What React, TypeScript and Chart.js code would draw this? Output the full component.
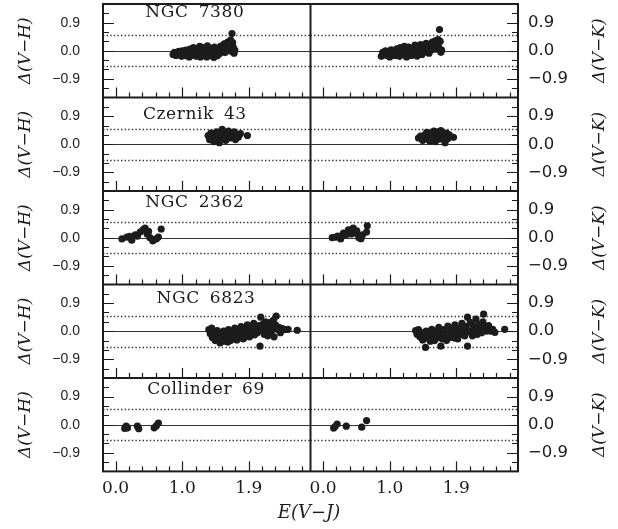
import { useEffect, useRef } from "react";
import { Chart, registerables } from "chart.js";

Chart.register(...registerables);

type Pt = [number, number];

// ---------- data ----------
const clusterNames = ["NGC 7380", "Czernik 43", "NGC 2362", "NGC 6823", "Collinder 69"];

const ngc7380VH: Pt[] = [
  [0.82, -0.12], [0.84, -0.05], [0.86, -0.15], [0.88, -0.08], [0.9, -0.02], [0.92, -0.12], [0.94, -0.18],
  [0.95, 0.0], [0.96, -0.06], [0.98, -0.1], [1.0, 0.02], [1.01, -0.16], [1.02, -0.02], [1.03, -0.08],
  [1.05, -0.2], [1.06, 0.05], [1.08, -0.04], [1.1, -0.14], [1.11, 0.1], [1.12, -0.07], [1.13, -0.02],
  [1.15, -0.18], [1.16, 0.06], [1.18, -0.09], [1.19, -0.14], [1.2, 0.14], [1.21, -0.2], [1.22, -0.01],
  [1.23, 0.02], [1.25, -0.12], [1.26, 0.1], [1.27, -0.15], [1.28, -0.05], [1.3, -0.2], [1.31, 0.16],
  [1.32, -0.09], [1.33, 0.0], [1.35, -0.15], [1.36, 0.08], [1.37, -0.01], [1.38, -0.08], [1.4, -0.22],
  [1.41, 0.12], [1.42, -0.12], [1.43, -0.02], [1.45, -0.16], [1.46, 0.05], [1.47, -0.06], [1.48, -0.1],
  [1.5, 0.15], [1.51, -0.04], [1.53, 0.08], [1.55, 0.22], [1.56, -0.06], [1.58, 0.12], [1.6, 0.28],
  [1.61, 0.04], [1.63, 0.18], [1.64, 0.34], [1.65, -0.02], [1.66, 0.55], [1.67, 0.26], [1.68, 0.1],
  [1.69, -0.08], [1.7, 0.02],
];
const ngc7380VK: Pt[] = [
  [0.83, -0.18], [0.85, -0.05], [0.87, -0.12], [0.89, 0.0], [0.91, -0.15], [0.93, -0.06], [0.95, -0.2],
  [0.97, 0.03], [0.98, -0.14], [0.99, -0.1], [1.01, -0.02], [1.03, -0.15], [1.05, 0.06], [1.07, -0.08],
  [1.09, -0.18], [1.1, 0.1], [1.12, -0.03], [1.13, -0.08], [1.14, -0.12], [1.16, 0.14], [1.17, 0.02],
  [1.18, -0.02], [1.19, -0.2], [1.21, -0.06], [1.22, 0.12], [1.24, -0.02], [1.25, 0.03], [1.26, -0.15],
  [1.27, 0.07], [1.29, -0.09], [1.31, 0.18], [1.32, 0.0], [1.33, -0.1], [1.34, -0.17], [1.36, 0.1],
  [1.37, -0.05], [1.39, 0.2], [1.4, 0.0], [1.41, -0.12], [1.42, 0.06], [1.44, 0.15], [1.46, -0.02],
  [1.47, 0.24], [1.48, -0.04], [1.49, 0.08], [1.51, -0.08], [1.52, 0.18], [1.54, 0.02], [1.56, 0.28],
  [1.58, 0.12], [1.6, 0.32], [1.61, 0.05], [1.63, 0.22], [1.64, 0.36], [1.65, 0.1], [1.66, 0.68],
  [1.67, 0.3], [1.68, -0.05], [1.69, 0.02],
];

const czernik43VH: Pt[] = [
  [1.32, 0.28], [1.34, 0.15], [1.36, 0.36], [1.38, 0.22], [1.4, 0.08], [1.42, 0.3], [1.44, 0.4],
  [1.46, 0.18], [1.48, 0.05], [1.5, 0.32], [1.52, 0.48], [1.53, 0.22], [1.55, 0.38], [1.57, 0.12],
  [1.59, 0.3], [1.61, 0.42], [1.63, 0.2], [1.65, 0.35], [1.67, 0.26], [1.69, 0.4], [1.71, 0.15],
  [1.73, 0.3], [1.75, 0.22], [1.78, 0.34], [1.88, 0.28],
];
const czernik43VK: Pt[] = [
  [1.36, 0.2], [1.39, 0.26], [1.42, 0.12], [1.45, 0.3], [1.48, 0.38], [1.5, 0.18], [1.52, 0.1],
  [1.54, 0.34], [1.56, 0.24], [1.58, 0.42], [1.6, 0.08], [1.62, 0.28], [1.64, 0.4], [1.66, 0.16],
  [1.68, 0.44], [1.7, 0.3], [1.72, 0.22], [1.74, 0.05], [1.76, 0.36], [1.78, 0.18], [1.8, 0.3],
  [1.86, 0.22],
];

const ngc2362VH: Pt[] = [
  [0.09, -0.04], [0.16, 0.02], [0.2, 0.04], [0.23, -0.08], [0.28, 0.09], [0.31, 0.05], [0.35, 0.18],
  [0.39, 0.25], [0.42, 0.31], [0.45, 0.12], [0.47, 0.2], [0.49, 0.0], [0.53, -0.1], [0.55, -0.06],
  [0.58, -0.04], [0.61, 0.02], [0.65, 0.28],
];
const ngc2362VK: Pt[] = [
  [0.13, 0.0], [0.18, 0.02], [0.21, 0.05], [0.25, -0.04], [0.29, 0.15], [0.32, 0.08], [0.36, 0.25],
  [0.4, 0.12], [0.43, 0.31], [0.46, 0.15], [0.48, 0.22], [0.51, 0.0], [0.54, -0.03], [0.56, 0.09],
  [0.62, 0.18], [0.63, 0.38],
];

const ngc6823VH: Pt[] = [
  [1.33, 0.05], [1.35, -0.08], [1.37, 0.1], [1.38, -0.2], [1.4, -0.05], [1.42, -0.3], [1.44, -0.12],
  [1.45, 0.02], [1.46, -0.15], [1.47, -0.25], [1.49, -0.38], [1.5, -0.1], [1.52, -0.18], [1.54, 0.0],
  [1.55, -0.32], [1.57, -0.08], [1.59, -0.22], [1.6, -0.35], [1.61, 0.05], [1.62, -0.15], [1.64, -0.3],
  [1.66, -0.02], [1.68, -0.2], [1.7, 0.1], [1.71, -0.1], [1.72, -0.02], [1.73, -0.28], [1.75, 0.02],
  [1.77, -0.15], [1.79, 0.15], [1.8, -0.05], [1.82, -0.25], [1.84, 0.08], [1.85, -0.18], [1.86, -0.1],
  [1.88, 0.2], [1.89, -0.02], [1.91, -0.18], [1.93, 0.12], [1.95, 0.0], [1.96, -0.08], [1.97, 0.25],
  [1.98, -0.12], [2.0, 0.08], [2.02, -0.05], [2.04, 0.18], [2.06, -0.48], [2.07, 0.45], [2.08, 0.02],
  [2.1, 0.22], [2.12, -0.1], [2.14, 0.3], [2.15, 0.05], [2.16, 0.12], [2.17, -0.15], [2.19, 0.15],
  [2.21, 0.28], [2.22, -0.02], [2.24, 0.1], [2.25, 0.35], [2.26, -0.18], [2.28, 0.2], [2.29, 0.48],
  [2.31, 0.05], [2.33, 0.12], [2.35, -0.05], [2.38, 0.08], [2.42, 0.05], [2.46, 0.06], [2.59, 0.03],
];
const ngc6823VK: Pt[] = [
  [1.32, 0.02], [1.34, -0.1], [1.36, 0.05], [1.38, -0.18], [1.4, -0.05], [1.42, -0.28], [1.44, -0.12],
  [1.46, -0.52], [1.47, 0.0], [1.49, -0.22], [1.51, -0.08], [1.53, -0.32], [1.55, 0.06], [1.57, -0.15],
  [1.58, -0.1], [1.59, -0.3], [1.61, -0.02], [1.63, -0.2], [1.65, 0.12], [1.67, -0.1], [1.68, -0.48],
  [1.7, -0.25], [1.71, -0.12], [1.72, 0.05], [1.74, -0.15], [1.76, -0.3], [1.78, 0.16], [1.8, -0.05],
  [1.82, -0.2], [1.84, 0.08], [1.86, -0.12], [1.87, -0.22], [1.88, 0.2], [1.9, -0.02], [1.92, -0.25],
  [1.94, 0.1], [1.96, -0.1], [1.98, 0.25], [2.0, 0.02], [2.01, 0.12], [2.02, -0.15], [2.04, 0.15],
  [2.06, 0.45], [2.06, -0.48], [2.08, 0.0], [2.1, 0.28], [2.12, -0.08], [2.13, -0.15], [2.14, 0.18],
  [2.16, 0.05], [2.18, 0.39], [2.2, -0.1], [2.22, 0.22], [2.24, 0.08], [2.26, -0.05], [2.28, 0.3],
  [2.29, 0.55], [2.31, 0.12], [2.33, 0.0], [2.36, 0.18], [2.39, 0.0], [2.42, 0.06], [2.45, -0.04],
  [2.59, 0.06],
];

const collinder69VH: Pt[] = [
  [0.13, -0.12], [0.15, -0.05], [0.17, -0.1], [0.31, -0.05], [0.33, -0.13], [0.55, -0.1], [0.58, -0.04],
  [0.61, 0.05],
];
const collinder69VK: Pt[] = [
  [0.15, -0.11], [0.17, -0.06], [0.2, 0.02], [0.33, -0.05], [0.55, -0.08], [0.62, 0.13],
];

const vhSeries: Pt[][] = [ngc7380VH, czernik43VH, ngc2362VH, ngc6823VH, collinder69VH];
const vkSeries: Pt[][] = [ngc7380VK, czernik43VK, ngc2362VK, ngc6823VK, collinder69VK];

// axis / tick definitions
const X_MIN = -0.18;
const X_MAX = 2.78;
const Y_MIN = -1.5;
const Y_MAX = 1.5;
const xMajorValues = [0, 0.95, 1.9];
const xMajorLabels = ["0.0", "1.0", "1.9"];
const xMinorStep = 0.19;
const yMajorValues = [-0.9, 0, 0.9];
const yMajorLabels = ["\u22120.9", "0.0", "0.9"];
const yMinorValues = [-1.2, -0.6, -0.3, 0.3, 0.6, 1.2];
const dottedLevels = [-0.5, 0.5];
const titleXValues = [1.13, 1.13, 1.13, 1.29, 1.29];
const titleYValues = [1.21, 0.95, 1.13, 1.06, 1.13];
const leftTitle = "\u0394(V\u2212H)";
const rightTitle = "\u0394(V\u2212K)";
const xTitle = "E(V\u2212J)";

const INK = "#1c1c1c";

function makeY(pos: "left" | "right", weight: number) {
  return {
    type: "linear",
    position: pos,
    stack: pos === "left" ? "yl" : "yr",
    stackWeight: 1,
    weight,
    min: Y_MIN,
    max: Y_MAX,
    grid: { display: false, drawTicks: false },
    border: { display: false },
    afterBuildTicks: (s: any) => {
      s.ticks = yMajorValues.map((v) => ({ value: v }));
    },
    afterFit: (s: any) => {
      s.width = pos === "left" ? 103 : 100;
      s.paddingTop = 0;
      s.paddingBottom = 0;
    },
    ticks: {
      autoSkip: false,
      padding: pos === "left" ? 23 : 10,
      color: INK,
      font: pos === "left"
        ? { family: "Liberation Sans", size: 14 }
        : { family: "DejaVu Sans", size: 16.5 },
      callback: (v: number) => {
        const i = yMajorValues.indexOf(v);
        return i >= 0 ? yMajorLabels[i] : "";
      },
    },
  };
}

function makeX(weight: number) {
  return {
    type: "linear",
    position: "bottom",
    stack: "xs",
    stackWeight: 1,
    weight,
    min: X_MIN,
    max: X_MAX,
    grid: { display: false, drawTicks: false },
    border: { display: false },
    afterBuildTicks: (s: any) => {
      s.ticks = xMajorValues.map((v) => ({ value: v }));
    },
    afterFit: (s: any) => {
      s.height = 31;
      s.paddingLeft = 0;
      s.paddingRight = 0;
    },
    ticks: {
      autoSkip: false,
      maxRotation: 0,
      padding: 7,
      color: INK,
      font: { family: "DejaVu Serif", size: 17 },
      callback: (v: number) => {
        const i = xMajorValues.indexOf(v);
        return i >= 0 ? xMajorLabels[i] : "";
      },
    },
  };
}

const decorPlugin = {
  id: "panelDecor",
  beforeDatasetsDraw(chart: any) {
    const ctx = chart.ctx;
    const cols = [chart.scales.xL, chart.scales.xR];
    ctx.save();
    for (let r = 0; r < 5; r++) {
      const ys = chart.scales["y" + r];
      for (const xs of cols) {
        const y0 = Math.round(ys.getPixelForValue(0)) + 0.5;
        ctx.setLineDash([]);
        ctx.strokeStyle = "#333";
        ctx.lineWidth = 1.2;
        ctx.beginPath();
        ctx.moveTo(xs.left, y0);
        ctx.lineTo(xs.right, y0);
        ctx.stroke();
        ctx.setLineDash([1.4, 2.2]);
        ctx.lineWidth = 1.3;
        for (const lv of dottedLevels) {
          const yy = Math.round(ys.getPixelForValue(lv)) + 0.5;
          ctx.beginPath();
          ctx.moveTo(xs.left, yy);
          ctx.lineTo(xs.right, yy);
          ctx.stroke();
        }
      }
    }
    ctx.restore();
  },
  afterDatasetsDraw(chart: any) {
    const ctx = chart.ctx;
    const area = chart.chartArea;
    const xL = chart.scales.xL;
    const xR = chart.scales.xR;
    ctx.save();
    ctx.strokeStyle = INK;
    ctx.setLineDash([]);
    // ticks
    ctx.lineWidth = 1.2;
    for (let r = 0; r < 5; r++) {
      const ys = chart.scales["y" + r];
      const all = [...yMajorValues.map((v) => [v, 11]), ...yMinorValues.map((v) => [v, 6])];
      for (const [v, len] of all) {
        const py = Math.round(ys.getPixelForValue(v)) + 0.5;
        ctx.beginPath();
        ctx.moveTo(area.left, py);
        ctx.lineTo(area.left + len, py);
        ctx.moveTo(area.right, py);
        ctx.lineTo(area.right - len, py);
        ctx.stroke();
      }
      for (const xs of [xL, xR]) {
        const k0 = Math.ceil(X_MIN / xMinorStep);
        const k1 = Math.floor(X_MAX / xMinorStep);
        for (let k = k0; k <= k1; k++) {
          const px = Math.round(xs.getPixelForValue(k * xMinorStep)) + 0.5;
          if (px <= xs.left + 1 || px >= xs.right - 1) continue;
          const len = k % 5 === 0 ? 10 : 5;
          ctx.beginPath();
          ctx.moveTo(px, ys.bottom);
          ctx.lineTo(px, ys.bottom - len);
          ctx.stroke();
        }
      }
    }
    // separators
    ctx.lineWidth = 2;
    for (let r = 0; r < 4; r++) {
      const ys = chart.scales["y" + r];
      ctx.beginPath();
      ctx.moveTo(area.left, ys.bottom);
      ctx.lineTo(area.right, ys.bottom);
      ctx.stroke();
    }
    ctx.beginPath();
    ctx.moveTo(xL.right, area.top);
    ctx.lineTo(xL.right, area.bottom);
    ctx.stroke();
    ctx.strokeRect(area.left, area.top, area.right - area.left, area.bottom - area.top);

    // panel titles
    ctx.fillStyle = INK;
    ctx.textAlign = "center";
    ctx.textBaseline = "middle";
    ctx.font = "17px 'DejaVu Serif'";
    try {
      (ctx as any).letterSpacing = "0.6px";
      (ctx as any).wordSpacing = "4px";
    } catch (e) {}
    for (let r = 0; r < 5; r++) {
      const ys = chart.scales["y" + r];
      ctx.fillText(clusterNames[r], xL.getPixelForValue(titleXValues[r]), ys.getPixelForValue(titleYValues[r]));
    }
    try {
      (ctx as any).letterSpacing = "0px";
      (ctx as any).wordSpacing = "0px";
    } catch (e) {}
    // y titles
    ctx.font = "italic 17px 'DejaVu Serif'";
    for (let r = 0; r < 5; r++) {
      const ys = chart.scales["y" + r];
      const cy = (ys.top + ys.bottom) / 2;
      for (const [cx, txt] of [[25.5, leftTitle], [600, rightTitle]] as [number, string][]) {
        ctx.save();
        ctx.translate(cx, cy);
        ctx.rotate(-Math.PI / 2);
        ctx.fillText(txt, 0, 0);
        ctx.restore();
      }
    }
    ctx.restore();
  },
};

export default function App() {
  const ref = useRef<HTMLCanvasElement | null>(null);
  useEffect(() => {
    if (!ref.current) return;
    const scales: any = {
      xL: makeX(0),
      xR: makeX(1),
    };
    for (let r = 0; r < 5; r++) {
      scales["y" + r] = makeY("left", 5 - r);
      scales["yr" + r] = makeY("right", r + 1);
    }
    const datasets: any[] = [];
    for (let r = 0; r < 5; r++) {
      datasets.push({
        label: clusterNames[r] + " V-H",
        data: vhSeries[r].map(([x, y]) => ({ x, y })),
        xAxisID: "xL",
        yAxisID: "y" + r,
      });
      datasets.push({
        label: clusterNames[r] + " V-K",
        data: vkSeries[r].map(([x, y]) => ({ x, y })),
        xAxisID: "xR",
        yAxisID: "yr" + r,
      });
    }
    for (const d of datasets) {
      d.pointRadius = 3.6;
      d.pointBackgroundColor = INK;
      d.pointBorderWidth = 0;
      d.showLine = false;
    }
    const chart = new Chart(ref.current, {
      type: "scatter",
      data: { datasets },
      options: {
        animation: false,
        responsive: false,
        devicePixelRatio: 1,
        layout: { padding: { top: 4, left: 0, right: 0, bottom: 0 } },
        scales,
        plugins: {
          legend: { display: false },
          tooltip: { enabled: false },
          title: {
            display: true,
            position: "bottom",
            text: xTitle,
            color: INK,
            font: { family: "DejaVu Serif", style: "italic", size: 18, lineHeight: 1.2, weight: "normal" },
            padding: { top: 0, bottom: 5 },
          },
        },
      } as any,
      plugins: [decorPlugin],
    });
    return () => chart.destroy();
  }, []);
  return (
    <div style={{ position: "absolute", left: 0, top: 0, width: 618, height: 529, background: "#fff" }}>
      <canvas ref={ref} width={618} height={529} style={{ display: "block" }} />
    </div>
  );
}
